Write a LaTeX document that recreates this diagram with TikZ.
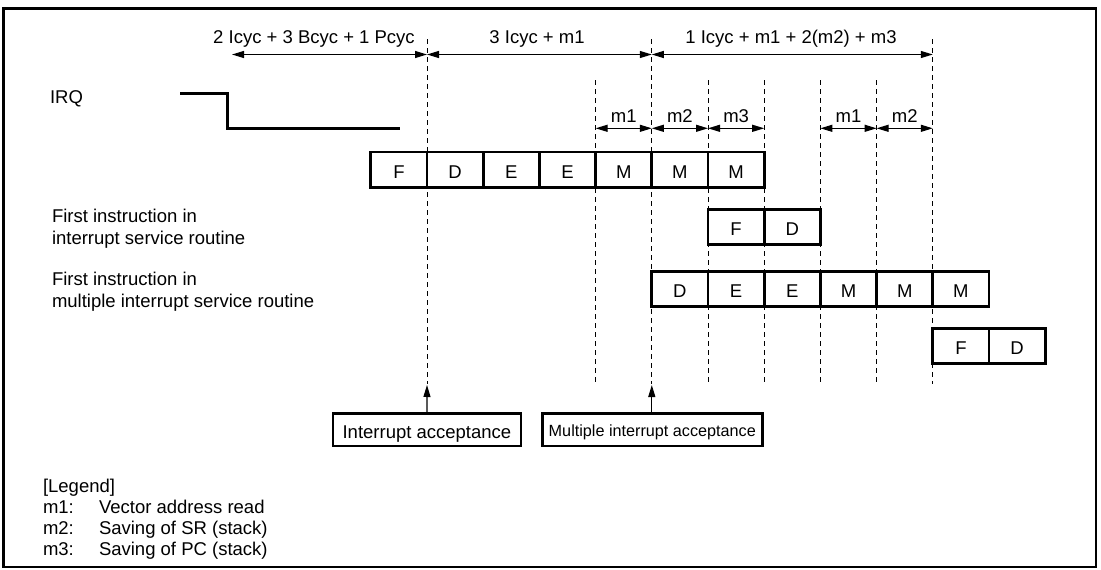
\documentclass[tikz,border=0pt]{standalone}
\usepackage{fontspec}
\setmainfont{Liberation Sans}
\usetikzlibrary{arrows.meta}
\begin{document}
\begin{tikzpicture}[x=1pt,y=-1pt,
  every node/.style={font=\fontsize{18.5}{22}\selectfont, inner sep=0pt, outer sep=0pt},
  cell/.style={draw, line width=2.7pt, minimum width=56.2pt, minimum height=35.5pt, text height=16.8pt, text depth=0pt},
  accbox/.style={draw, line width=2.7pt, minimum height=32.7pt, text depth=0pt},
  guide/.style={line width=1pt, dash pattern=on 5pt off 4pt},
  dim/.style={line width=1.2pt, {Triangle[length=12pt,width=7pt]}-{Triangle[length=12pt,width=7pt]}},
  ptr/.style={line width=1.2pt, -{Triangle[length=12pt,width=7pt]}},
  lbl/.style={anchor=base west},
  clbl/.style={anchor=base},
  sig/.style={line width=2.4pt}
]
\useasboundingbox (0,0) rectangle (1101,570);
\draw[line width=2.7pt] (3.5,8.5) rectangle (1096,567);

% guide lines
\foreach \n/\x/\t in {g0/427/39, g3/595.6/80, g4/651.8/39, g5/708/80, g6/764.2/80, g7/820.4/80, g8/876.6/80, g9/932.8/39}{
  \coordinate (\n t) at (\x,\t);
  \coordinate (\n b) at (\x,384);
  \draw[guide] (\n t) -- (\n b);
}

% top dimension arrows
\coordinate (d1l) at (232,54.5);
\coordinate (d1r) at (427,54.5);
\coordinate (d2r) at (651.8,54.5);
\coordinate (d3r) at (932.8,54.5);
\draw[dim] (d1l) -- (d1r);
\draw[dim] (d1r) -- (d2r);
\draw[dim] (d2r) -- (d3r);
\node[clbl] (t1) at (314,43) {2 Icyc + 3 Bcyc + 1 Pcyc};
\node[clbl] (t2) at (537,43) {3 Icyc + m1};
\node[clbl] (t3) at (791,43) {1 Icyc + m1 + 2(m2) + m3};

% m arrows
\foreach \n/\a/\b/\l in {ma/595.6/651.8/m1, mb/651.8/708/m2, mc/708/764.2/m3, md/820.4/876.6/m1, me/876.6/932.8/m2}{
  \coordinate (\n l) at (\a,128.3);
  \coordinate (\n r) at (\b,128.3);
  \draw[dim] (\n l) -- (\n r);
  \node[clbl] (\n txt) at ({(\a+\b)/2},122.7) {\l};
}

% IRQ
\node[lbl] (irq) at (50,103) {IRQ};
\coordinate (s0) at (180,93.3);
\coordinate (s1) at (227.3,93.3);
\coordinate (s2) at (227.3,128.3);
\coordinate (s3) at (400,128.3);
\draw[sig] (s0) -- (s1) -- (s2) -- (s3);

% row 1
\node[cell] (r1a) at (398.9,169.75) {F};
\node[cell] (r1b) at (455.1,169.75) {D};
\node[cell] (r1c) at (511.3,169.75) {E};
\node[cell] (r1d) at (567.5,169.75) {E};
\node[cell] (r1e) at (623.7,169.75) {M};
\node[cell] (r1f) at (679.9,169.75) {M};
\node[cell] (r1g) at (736.1,169.75) {M};

% row 2
\node[lbl] (isr1) at (52,222) {First instruction in};
\node[lbl] (isr2) at (52,244.5) {interrupt service routine};
\node[cell] (r2a) at (736.1,227) {F};
\node[cell] (r2b) at (792.3,227) {D};

% row 3
\node[lbl] (misr1) at (52,285) {First instruction in};
\node[lbl] (misr2) at (52,307.5) {multiple interrupt service routine};
\node[cell] (r3a) at (679.9,289) {D};
\node[cell] (r3b) at (736.1,289) {E};
\node[cell] (r3c) at (792.3,289) {E};
\node[cell] (r3d) at (848.5,289) {M};
\node[cell] (r3e) at (904.7,289) {M};
\node[cell] (r3f) at (960.9,289) {M};

% row 4
\node[cell] (r4a) at (960.9,346) {F};
\node[cell] (r4b) at (1017.1,346) {D};

% acceptance boxes
\node[accbox, minimum width=188pt, text height=17.2pt] (ia) at (426.9,429.7) {Interrupt acceptance};
\node[accbox, minimum width=220pt, text height=12.8pt, font=\fontsize{16.2}{19}\selectfont] (mia) at (652.3,429.7) {Multiple interrupt acceptance};
\coordinate (tip0) at (427,385);
\coordinate (tip4) at (651.8,385);
\draw[ptr] (ia.north) -- (tip0);
\draw[ptr] (mia.north -| tip4) -- (tip4);

% legend
\node[lbl] (lg) at (43,492) {[Legend]};
\node[lbl] (lg1) at (43,513.5) {m1:};
\node[lbl] (lg1t) at (99,513.5) {Vector address read};
\node[lbl] (lg2) at (43,534.5) {m2:};
\node[lbl] (lg2t) at (99,534.5) {Saving of SR (stack)};
\node[lbl] (lg3) at (43,555.5) {m3:};
\node[lbl] (lg3t) at (99,555.5) {Saving of PC (stack)};
\end{tikzpicture}
\end{document}
